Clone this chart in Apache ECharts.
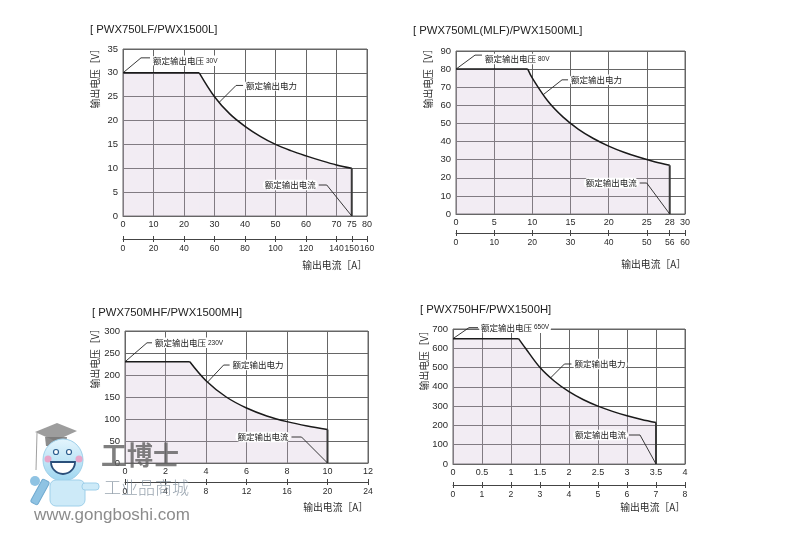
<!DOCTYPE html>
<html><head><meta charset="utf-8">
<script src="https://cdn.jsdelivr.net/npm/echarts@6/dist/echarts.min.js"></script>
<style>html,body{margin:0;padding:0;background:#fff}#c{width:800px;height:533px}</style>
</head><body><div id="c"></div>
<script>
// ---------- data ----------
const p1Title = '[ PWX750LF/PWX1500L]';
const p1Current = [0, 25, 30, 35, 40, 45, 50, 55, 60, 65, 70, 75];
const p1Voltage = [30, 30, 25, 21.4, 18.8, 16.7, 15, 13.7, 12.6, 11.6, 10.7, 10];
const p1XTicks = [0, 10, 20, 30, 40, 50, 60, 70, 75, 80];
const p1X2Ticks = [0, 20, 40, 60, 80, 100, 120, 140, 150, 160];
const p1YTicks = [0, 5, 10, 15, 20, 25, 30, 35];
const p1RatedV = '30V';
const p1PowerNote = [31.5, 23.8];

const p2Title = '[ PWX750ML(MLF)/PWX1500ML]';
const p2Current = [0, 9.4, 10, 12, 14, 16, 18, 20, 22, 24, 26, 28];
const p2Voltage = [80, 80, 75, 62.5, 53.6, 46.9, 41.7, 37.5, 34.1, 31.3, 28.9, 26.9];
const p2XTicks = [0, 5, 10, 15, 20, 25, 28, 30];
const p2X2Ticks = [0, 10, 20, 30, 40, 50, 56, 60];
const p2YTicks = [0, 10, 20, 30, 40, 50, 60, 70, 80, 90];
const p2RatedV = '80V';
const p2PowerNote = [11.4, 65.8];

const p3Title = '[ PWX750MHF/PWX1500MH]';
const p3Current = [0, 3.2, 4, 5, 6, 7, 8, 9, 10];
const p3Voltage = [230, 230, 187, 150, 125, 107, 94, 84, 76];
const p3XTicks = [0, 2, 4, 6, 8, 10, 12];
const p3X2Ticks = [0, 4, 8, 12, 16, 20, 24];
const p3YTicks = [0, 50, 100, 150, 200, 250, 300];
const p3RatedV = '230V';
const p3PowerNote = [4.08, 184];

const p4Title = '[ PWX750HF/PWX1500H]';
const p4Current = [0, 1.13, 1.25, 1.5, 1.75, 2, 2.25, 2.5, 2.75, 3, 3.25, 3.5];
const p4Voltage = [650, 650, 600, 500, 429, 375, 333, 300, 273, 250, 231, 215];
const p4XTicks = [0, 0.5, 1, 1.5, 2, 2.5, 3, 3.5, 4];
const p4X2Ticks = [0, 1, 2, 3, 4, 5, 6, 7, 8];
const p4YTicks = [0, 100, 200, 300, 400, 500, 600, 700];
const p4RatedV = '650V';
const p4PowerNote = [1.68, 446];

const labelVoltage = '额定输出电压';
const labelPower = '额定输出电力';
const labelCurrent = '额定输出电流';
const xName = '输出电流［A］';
const yName = '输出电压［V］';

// ---------- layout ----------
const panels = [
  {title: p1Title, I: p1Current, V: p1Voltage, xt: p1XTicks, x2: p1X2Ticks, yt: p1YTicks, rv: p1RatedV, pn: p1PowerNote},
  {title: p2Title, I: p2Current, V: p2Voltage, xt: p2XTicks, x2: p2X2Ticks, yt: p2YTicks, rv: p2RatedV, pn: p2PowerNote},
  {title: p3Title, I: p3Current, V: p3Voltage, xt: p3XTicks, x2: p3X2Ticks, yt: p3YTicks, rv: p3RatedV, pn: p3PowerNote},
  {title: p4Title, I: p4Current, V: p4Voltage, xt: p4XTicks, x2: p4X2Ticks, yt: p4YTicks, rv: p4RatedV, pn: p4PowerNote}
];
const layouts = [
  {l:123, t:49, w:244, h:167, off:23, tx:90, ty:30, ynx:95, yny:44, xnx:367, xny:265,
   va:[18,-15,27,-12], pa:[17,-17,24,-17], ca:[-25,-31,-33,-31]},
  {l:456, t:51, w:229, h:163, off:19, tx:413, ty:31, ynx:428, yny:44, xnx:686, xny:264,
   va:[19,-14,26,-10], pa:[19,-15,25,-15], ca:[-23,-31,-30,-31]},
  {l:125, t:331, w:243, h:132, off:19, tx:92, ty:313, ynx:95, yny:324, xnx:368, xny:507,
   va:[22,-19,27,-19], pa:[16,-17,22,-17], ca:[-26,-26,-36,-26]},
  {l:453, t:329, w:232, h:135, off:21, tx:420, ty:310, ynx:424, yny:326, xnx:685, xny:507,
   va:[16,-11,25,-11], pa:[14,-14,21,-14], ca:[-16,-29,-27,-29]}
];

const FONT = '"Liberation Sans","Noto Sans CJK SC",sans-serif';
const CJK = '"Noto Sans CJK SC","Liberation Sans",sans-serif';
const GRID = '#666';
const FILL = 'rgba(205,185,210,0.38)';
const TXT = '#2a2a2a';

const grids = [], xAxes = [], yAxes = [], series = [];
panels.forEach((d, i) => {
  const L = layouts[i];
  grids.push({left: L.l, top: L.t, width: L.w, height: L.h, show: true,
    borderColor: GRID, borderWidth: 1, backgroundColor: 'transparent'});
  const xt = d.xt, x2 = d.x2, yt = d.yt;
  xAxes.push({type: 'value', gridIndex: i, min: xt[0], max: xt[xt.length - 1], interval: xt[1] - xt[0],
    position: 'bottom',
    axisLine: {show: true, lineStyle: {color: GRID}}, axisTick: {show: false},
    axisLabel: {customValues: xt, margin: 4, fontSize: 9, color: TXT, fontFamily: FONT,
      showMinLabel: true, showMaxLabel: true},
    splitLine: {show: true, lineStyle: {color: GRID, width: 1}}});
  xAxes.push({type: 'value', gridIndex: i, min: x2[0], max: x2[x2.length - 1], interval: x2[1] - x2[0],
    position: 'bottom', offset: L.off,
    axisLine: {show: true, lineStyle: {color: '#444'}},
    axisTick: {show: true, customValues: x2, length: 3, inside: false, lineStyle: {color: '#444'}},
    axisLabel: {customValues: x2, margin: 5, fontSize: 8.6, color: TXT, fontFamily: FONT,
      showMinLabel: true, showMaxLabel: true},
    splitLine: {show: false}});
  xAxes.push({type: 'value', gridIndex: i, min: x2[0], max: x2[x2.length - 1], interval: x2[1] - x2[0],
    position: 'bottom', offset: L.off,
    axisLine: {show: false},
    axisTick: {show: true, customValues: x2, length: 3, inside: true, lineStyle: {color: '#444'}},
    axisLabel: {show: false}, splitLine: {show: false}});
  yAxes.push({type: 'value', gridIndex: i, min: yt[0], max: yt[yt.length - 1], interval: yt[1] - yt[0],
    axisLine: {show: false}, axisTick: {show: false},
    axisLabel: {margin: 5, fontSize: 9.5, color: TXT, fontFamily: FONT, showMinLabel: true, showMaxLabel: true},
    splitLine: {show: true, lineStyle: {color: GRID, width: 1}}});

  const pts = d.I.map((x, k) => [x, d.V[k]]);
  const n = pts.length;
  series.push({type: 'line', xAxisIndex: i * 3, yAxisIndex: i, data: pts.slice(0, 2),
    symbol: 'none', silent: true, z: 3,
    lineStyle: {color: '#1a1a1a', width: 1.5}, areaStyle: {color: FILL}});
  series.push({type: 'line', xAxisIndex: i * 3, yAxisIndex: i, data: pts.slice(1),
    symbol: 'none', silent: true, smooth: 0.35, z: 3,
    lineStyle: {color: '#1a1a1a', width: 1.5}, areaStyle: {color: FILL}});
  series.push({type: 'line', xAxisIndex: i * 3, yAxisIndex: i,
    data: [[d.I[n - 1], d.V[n - 1]], [d.I[n - 1], 0]],
    symbol: 'none', silent: true, z: 4,
    lineStyle: {color: '#3a3a3a', width: 2}});
});

const chart = echarts.init(document.getElementById('c'), null, {renderer: 'canvas'});
chart.setOption({animation: false, backgroundColor: '#fff',
  grid: grids, xAxis: xAxes, yAxis: yAxes, series: series});

// ---------- annotations & texts ----------
const g = [];
function txt(x, y, text, opt) {
  const s = Object.assign({text: text, x: 0, y: 0, fill: TXT, font: '9px ' + FONT,
    align: 'left', textAlign: 'left', verticalAlign: 'middle', textVerticalAlign: 'middle'}, opt.style || {});
  g.push({type: 'text', x: x, y: y, rotation: opt.rotation || 0, z: opt.z || 10, style: s});
}
function leader(p, o, z) {
  g.push({type: 'polyline', z: z || 9, shape: {points: [[p[0], p[1]], [p[0] + o[0], p[1] + o[1]], [p[0] + o[2], p[1] + o[1]]]},
    style: {stroke: '#222', lineWidth: 0.9, fill: null}});
}
const boxStyle = {backgroundColor: '#fff', padding: [1, 2, 1, 2], borderRadius: 5};

panels.forEach((d, i) => {
  const L = layouts[i];
  const f = {xAxisIndex: i * 3, yAxisIndex: i};
  txt(L.tx, L.ty, d.title, {style: {font: '11.3px ' + FONT, fill: '#222'}});
  txt(L.ynx, L.yny, yName, {rotation: Math.PI / 2, style: {font: '9.8px ' + CJK, fill: '#2a2a2a', align: 'right', textAlign: 'right'}});
  txt(L.xnx, L.xny, xName, {style: {font: '9.8px ' + CJK, fill: '#2a2a2a', align: 'right', textAlign: 'right'}});

  const n = d.I.length;
  const pv = chart.convertToPixel(f, [0, d.V[0]]);
  const pp = chart.convertToPixel(f, d.pn);
  const pc = chart.convertToPixel(f, [d.I[n - 1], 0]);
  leader(pv, L.va);
  txt(pv[0] + L.va[2] + 1, pv[1] + L.va[3], labelVoltage + ' {s|' + d.rv + '}',
    {style: Object.assign({font: '8.5px ' + CJK, fill: '#222', rich: {s: {fontSize: 6.5, fontFamily: FONT, fill: '#222'}}}, boxStyle)});
  leader(pp, L.pa);
  txt(pp[0] + L.pa[2] + 1, pp[1] + L.pa[3], labelPower,
    {style: Object.assign({font: '8.5px ' + CJK, fill: '#222'}, boxStyle)});
  leader(pc, L.ca);
  txt(pc[0] + L.ca[2] - 1, pc[1] + L.ca[3], labelCurrent,
    {style: Object.assign({font: '8.5px ' + CJK, fill: '#222', align: 'right', textAlign: 'right'}, boxStyle)});
});

// ---------- watermark ----------
g.push({type: 'polygon', z: 20, shape: {points: [[35, 432], [57, 423], [77, 431], [55, 441]]}, style: {fill: 'rgba(140,140,140,0.85)'}});
g.push({type: 'polygon', z: 20, shape: {points: [[45, 437], [67, 437], [66, 446], [46, 446]]}, style: {fill: 'rgba(120,120,120,0.85)'}});
g.push({type: 'line', z: 20, shape: {x1: 37, y1: 433, x2: 36, y2: 470}, style: {stroke: 'rgba(150,150,150,0.9)', lineWidth: 1}});
g.push({type: 'ellipse', z: 20, shape: {cx: 63, cy: 460, rx: 20, ry: 21},
  style: {fill: new echarts.graphic.LinearGradient(0, 0, 0, 1, [{offset: 0, color: '#e4f5fd'}, {offset: 1, color: '#9ed6f0'}]), stroke: '#9fd0ea', lineWidth: 1}});
g.push({type: 'circle', z: 21, shape: {cx: 48, cy: 459, r: 3.5}, style: {fill: 'rgba(240,150,190,0.8)'}});
g.push({type: 'circle', z: 21, shape: {cx: 79, cy: 459, r: 3.5}, style: {fill: 'rgba(240,150,190,0.8)'}});
g.push({type: 'circle', z: 21, shape: {cx: 56, cy: 452, r: 2.5}, style: {fill: '#fff', stroke: '#2d5f8f', lineWidth: 1.2}});
g.push({type: 'circle', z: 21, shape: {cx: 69, cy: 452, r: 2.5}, style: {fill: '#fff', stroke: '#2d5f8f', lineWidth: 1.2}});
g.push({type: 'sector', z: 21, shape: {cx: 63, cy: 462, r: 12, startAngle: 0, endAngle: Math.PI, clockwise: true},
  style: {fill: '#fff', stroke: '#2a4f7a', lineWidth: 1.8}});
g.push({type: 'rect', z: 20, shape: {x: 50, y: 480, width: 35, height: 26, r: 6}, style: {fill: '#cdeaf8', stroke: '#9fd0ea', lineWidth: 1}});
g.push({type: 'rect', z: 20, shape: {x: 82, y: 483, width: 17, height: 7, r: 3}, style: {fill: '#cdeaf8', stroke: '#9fd0ea', lineWidth: 1}});
g.push({type: 'rect', z: 20, rotation: -0.5, x: 40, y: 492, shape: {x: -4, y: -13, width: 8, height: 26, r: 2}, style: {fill: '#8fc3e3', stroke: '#6fa9cf', lineWidth: 1}});
g.push({type: 'circle', z: 21, shape: {cx: 35, cy: 481, r: 5}, style: {fill: '#8fc3e3'}});
txt(101, 455, '工博士', {z: 20, style: {font: 'bold 26px "Noto Sans CJK SC"', fill: 'rgba(95,95,95,0.8)'}});
txt(104, 488, '工业品商城', {z: 20, style: {font: '300 17px "Noto Sans CJK SC"', fill: 'rgba(120,135,150,0.75)'}});
txt(34, 515, 'www.gongboshi.com', {z: 20, style: {font: '17px "Liberation Sans",sans-serif', fill: 'rgba(110,110,110,0.8)'}});

chart.setOption({graphic: g});
</script></body></html>
